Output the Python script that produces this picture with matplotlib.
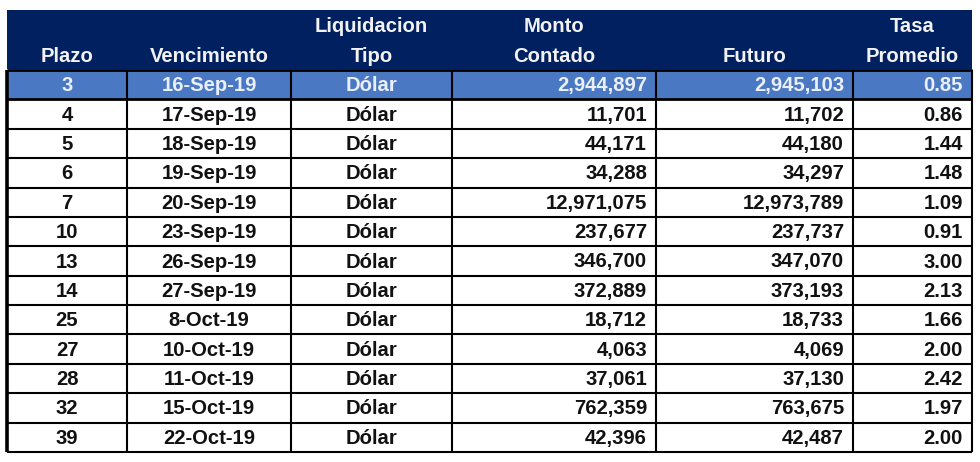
import matplotlib
matplotlib.use("Agg")
import matplotlib.pyplot as plt
from matplotlib.patches import Rectangle

plazo = [3, 4, 5, 6, 7, 10, 13, 14, 25, 27, 28, 32, 39]
vencimiento = ["16-Sep-19", "17-Sep-19", "18-Sep-19", "19-Sep-19", "20-Sep-19",
               "23-Sep-19", "26-Sep-19", "27-Sep-19", "8-Oct-19", "10-Oct-19",
               "11-Oct-19", "15-Oct-19", "22-Oct-19"]
tipo = ["Dólar"] * 13
contado = [2944897, 11701, 44171, 34288, 12971075, 237677, 346700, 372889,
           18712, 4063, 37061, 762359, 42396]
futuro = [2945103, 11702, 44180, 34297, 12973789, 237737, 347070, 373193,
          18733, 4069, 37130, 763675, 42487]
tasa = [0.85, 0.86, 1.44, 1.48, 1.09, 0.91, 3.00, 2.13, 1.66, 2.00, 2.42, 1.97, 2.00]

header_top = ["", "", "Liquidacion", "Monto", "", "Tasa"]
header_bot = ["Plazo", "Vencimiento", "Tipo", "Contado", "Futuro", "Promedio"]

# layout (pixels)
W, H = 980, 462
col_x = [7, 127, 291, 452, 656, 853, 972]
aligns = ["center", "center", "center", "right", "right", "right"]
head_top, head_bot = 10, 69
row_top, row_bot = 70, 452
n = len(plazo)
rh = (row_bot - row_top) / n

navy = "#002060"
hl = "#4A78C2"
fs = 14.6
fam = ["Liberation Sans", "DejaVu Sans"]

fig = plt.figure(figsize=(W / 100, H / 100), dpi=100)
ax = fig.add_axes([0, 0, 1, 1])
ax.set_xlim(0, W)
ax.set_ylim(H, 0)
ax.axis("off")

# header
ax.add_patch(Rectangle((col_x[0], head_top), col_x[-1] - col_x[0], head_bot - head_top,
                       facecolor=navy, edgecolor="none"))
for i in range(6):
    cx = (col_x[i] + col_x[i + 1]) / 2
    if header_top[i]:
        ax.text(cx, 26, header_top[i], ha="center", va="center", color="#F2F2F2",
                fontsize=fs, fontweight="bold", family=fam)
    ax.text(cx, 57, header_bot[i], ha="center", va="center", color="#F2F2F2",
            fontsize=fs, fontweight="bold", family=fam)

# highlight first row
ax.add_patch(Rectangle((col_x[0], row_top), col_x[-1] - col_x[0], rh,
                       facecolor=hl, edgecolor="none"))

# rows
for r in range(n):
    yc = row_top + rh * (r + 0.5) + 1
    vals = [str(plazo[r]), vencimiento[r], tipo[r], f"{contado[r]:,}",
            f"{futuro[r]:,}", f"{tasa[r]:.2f}"]
    color = "#EAF0FA" if r == 0 else "#111111"
    for i, v in enumerate(vals):
        if aligns[i] == "center":
            x = (col_x[i] + col_x[i + 1]) / 2
        else:
            x = col_x[i + 1] - 9
        ax.text(x, yc, v, ha=aligns[i], va="center", color=color,
                fontsize=fs, fontweight="bold", family=fam)

# grid lines
for r in range(n + 1):
    y = row_top + rh * r
    lw = 2.0 if r in (0, 1) else 1.5
    ax.plot([col_x[0], col_x[-1]], [y, y], color="black", lw=lw, solid_capstyle="butt")
for i, x in enumerate(col_x):
    lw = 2.6 if i == 0 else 1.5
    ax.plot([x, x], [row_top, row_bot], color="black", lw=lw, solid_capstyle="butt")

fig.savefig("out.png", dpi=100, facecolor="white")
